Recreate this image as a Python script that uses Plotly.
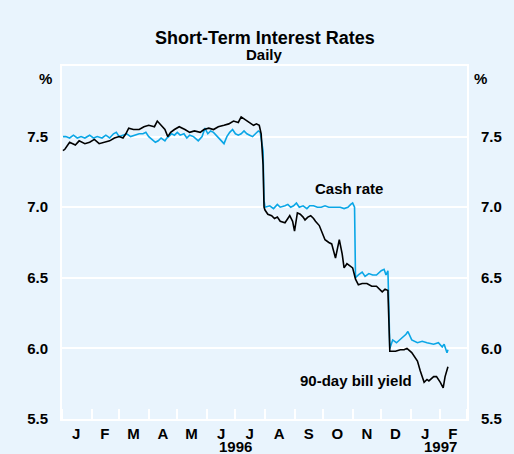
import plotly.graph_objects as go

# ---- data ----
bill_dates = [
    "1996-01-02", "1996-01-04", "1996-01-09", "1996-01-15", "1996-01-19", "1996-01-25", "1996-01-30",
    "1996-02-04", "1996-02-09", "1996-02-15", "1996-02-20", "1996-02-25", "1996-03-01", "1996-03-05",
    "1996-03-08", "1996-03-11", "1996-03-16", "1996-03-22", "1996-03-27", "1996-04-01", "1996-04-07",
    "1996-04-10", "1996-04-14", "1996-04-18", "1996-04-21", "1996-04-24", "1996-04-28", "1996-05-03",
    "1996-05-09", "1996-05-14", "1996-05-19", "1996-05-25", "1996-05-29", "1996-06-03", "1996-06-08",
    "1996-06-13", "1996-06-19", "1996-06-24", "1996-06-29", "1996-07-04", "1996-07-07", "1996-07-11",
    "1996-07-16", "1996-07-20", "1996-07-23", "1996-07-26", "1996-07-28", "1996-07-30", "1996-07-31",
    "1996-08-01", "1996-08-04", "1996-08-08", "1996-08-11", "1996-08-14", "1996-08-17", "1996-08-22",
    "1996-08-25", "1996-08-27", "1996-08-30", "1996-09-01", "1996-09-04", "1996-09-07", "1996-09-10",
    "1996-09-12", "1996-09-15", "1996-09-18", "1996-09-21", "1996-09-23", "1996-09-27", "1996-10-01",
    "1996-10-03", "1996-10-07", "1996-10-10", "1996-10-14", "1996-10-18", "1996-10-21", "1996-10-23",
    "1996-10-26", "1996-10-28", "1996-11-01", "1996-11-04", "1996-11-07", "1996-11-11", "1996-11-16",
    "1996-11-21", "1996-11-26", "1996-12-02", "1996-12-05", "1996-12-08", "1996-12-09", "1996-12-10",
    "1996-12-16", "1996-12-21", "1996-12-25", "1996-12-28", "1997-01-02", "1997-01-08", "1997-01-11",
    "1997-01-15", "1997-01-18", "1997-01-20", "1997-01-25", "1997-01-28", "1997-02-01", "1997-02-04",
    "1997-02-06", "1997-02-08", "1997-02-09",
]
bill_yield = [
    7.40, 7.41, 7.46, 7.44, 7.47, 7.45, 7.46,
    7.48, 7.45, 7.46, 7.47, 7.49, 7.50, 7.49,
    7.52, 7.56, 7.55, 7.55, 7.57, 7.58, 7.57,
    7.61, 7.58, 7.55, 7.50, 7.53, 7.55, 7.57,
    7.55, 7.53, 7.54, 7.53, 7.55, 7.56, 7.55,
    7.57, 7.58, 7.59, 7.61, 7.60, 7.64, 7.62,
    7.60, 7.58, 7.59, 7.58, 7.52, 7.30, 7.00,
    6.98, 6.95, 6.94, 6.92, 6.93, 6.90, 6.89,
    6.92, 6.94, 6.90, 6.83, 6.96, 6.95, 6.93,
    6.91, 6.93, 6.94, 6.92, 6.90, 6.87, 6.80,
    6.77, 6.75, 6.74, 6.64, 6.77, 6.67, 6.57,
    6.60, 6.59, 6.57, 6.49, 6.45, 6.46, 6.46,
    6.44, 6.44, 6.40, 6.42, 6.41, 6.20, 5.98,
    5.98, 5.99, 5.99, 6.00, 5.97, 5.91, 5.84,
    5.76, 5.78, 5.77, 5.80, 5.80, 5.76, 5.72,
    5.80, 5.84, 5.87,
]

cash_dates = [
    "1996-01-02", "1996-01-05", "1996-01-09", "1996-01-13", "1996-01-17", "1996-01-21", "1996-01-25",
    "1996-01-30", "1996-02-03", "1996-02-07", "1996-02-12", "1996-02-16", "1996-02-20", "1996-02-24",
    "1996-02-27", "1996-03-01", "1996-03-05", "1996-03-09", "1996-03-13", "1996-03-17", "1996-03-22",
    "1996-03-26", "1996-03-29", "1996-04-01", "1996-04-05", "1996-04-08", "1996-04-11", "1996-04-14",
    "1996-04-18", "1996-04-20", "1996-04-22", "1996-04-25", "1996-04-28", "1996-05-01", "1996-05-04",
    "1996-05-08", "1996-05-11", "1996-05-14", "1996-05-18", "1996-05-23", "1996-05-27", "1996-05-30",
    "1996-06-02", "1996-06-05", "1996-06-08", "1996-06-11", "1996-06-14", "1996-06-16", "1996-06-19",
    "1996-06-22", "1996-06-25", "1996-06-28", "1996-07-01", "1996-07-04", "1996-07-07", "1996-07-10",
    "1996-07-13", "1996-07-16", "1996-07-19", "1996-07-22", "1996-07-25", "1996-07-27", "1996-07-30",
    "1996-07-31", "1996-08-01", "1996-08-06", "1996-08-10", "1996-08-14", "1996-08-17", "1996-08-22",
    "1996-08-25", "1996-08-28", "1996-08-31", "1996-09-03", "1996-09-06", "1996-09-10", "1996-09-14",
    "1996-09-17", "1996-09-21", "1996-09-25", "1996-09-29", "1996-10-03", "1996-10-07", "1996-10-11",
    "1996-10-15", "1996-10-19", "1996-10-23", "1996-10-27", "1996-10-30", "1996-11-01", "1996-11-03",
    "1996-11-04", "1996-11-07", "1996-11-11", "1996-11-14", "1996-11-18", "1996-11-22", "1996-11-26",
    "1996-12-01", "1996-12-04", "1996-12-06", "1996-12-08", "1996-12-09", "1996-12-10", "1996-12-13",
    "1996-12-17", "1996-12-22", "1996-12-27", "1996-12-29", "1997-01-02", "1997-01-08", "1997-01-13",
    "1997-01-18", "1997-01-25", "1997-01-30", "1997-02-03", "1997-02-05", "1997-02-08", "1997-02-09",
]
cash_rate = [
    7.50, 7.50, 7.49, 7.51, 7.49, 7.50, 7.49,
    7.51, 7.49, 7.50, 7.49, 7.51, 7.49, 7.52,
    7.53, 7.50, 7.51, 7.52, 7.50, 7.51, 7.52,
    7.52, 7.53, 7.50, 7.48, 7.46, 7.47, 7.49,
    7.47, 7.49, 7.50, 7.52, 7.51, 7.53, 7.51,
    7.52, 7.49, 7.51, 7.50, 7.47, 7.50, 7.56,
    7.52, 7.54, 7.53, 7.51, 7.49, 7.47, 7.45,
    7.50, 7.53, 7.55, 7.52, 7.51, 7.52, 7.54,
    7.52, 7.51, 7.50, 7.52, 7.54, 7.53, 7.40,
    7.05, 7.00, 7.01, 6.99, 7.02, 7.00, 7.01,
    7.02, 7.00, 7.01, 7.03, 7.00, 7.01, 6.99,
    7.01, 7.01, 7.00, 7.00, 7.01, 7.00, 7.00,
    7.00, 7.00, 6.99, 7.00, 7.02, 7.03, 7.00,
    6.50, 6.52, 6.54, 6.51, 6.53, 6.52, 6.52,
    6.55, 6.56, 6.52, 6.55, 6.30, 6.00, 6.06,
    6.04, 6.07, 6.10, 6.12, 6.06, 6.04, 6.05,
    6.04, 6.03, 6.04, 6.01, 6.03, 5.97, 5.99,
]

month_starts = [
    "1996-01-01", "1996-02-01", "1996-03-01", "1996-04-01", "1996-05-01", "1996-06-01", "1996-07-01",
    "1996-08-01", "1996-09-01", "1996-10-01", "1996-11-01", "1996-12-01", "1997-01-01", "1997-02-01",
    "1997-03-01",
]
month_mids = [
    "1996-01-16", "1996-02-15", "1996-03-16", "1996-04-16", "1996-05-16", "1996-06-16", "1996-07-16",
    "1996-08-16", "1996-09-16", "1996-10-16", "1996-11-16", "1996-12-16", "1997-01-16", "1997-02-14",
]
month_labels = ["J", "F", "M", "A", "M", "J", "J", "A", "S", "O", "N", "D", "J", "F"]
year_labels = ["1996", "1997"]
year_positions = ["1996-07-01", "1997-02-01"]
y_ticks = [5.5, 6.0, 6.5, 7.0, 7.5]
y_ticktext = ["5.5", "6.0", "6.5", "7.0", "7.5"]

BG = "#E9F4FD"
BLUE = "#0AA6E6"
FONT = "Liberation Sans, Arial, Helvetica, sans-serif"

fig = go.Figure()
fig.add_trace(go.Scatter(x=cash_dates, y=cash_rate, mode="lines",
                         line=dict(color=BLUE, width=1.6), name="Cash rate",
                         showlegend=False))
fig.add_trace(go.Scatter(x=bill_dates, y=bill_yield, mode="lines",
                         line=dict(color="black", width=1.6), name="90-day bill yield",
                         showlegend=False))
fig.add_trace(go.Scatter(x=[bill_dates[0]], y=[bill_yield[0]], yaxis="y2",
                         mode="markers", marker=dict(opacity=0), showlegend=False,
                         hoverinfo="skip"))

tick_font = dict(family=FONT, size=15, color="black", weight="bold")

fig.update_layout(
    width=514, height=454,
    margin=dict(l=62, r=43, t=66, b=32),
    paper_bgcolor=BG, plot_bgcolor=BG,
    showlegend=False,
    xaxis=dict(
        type="date", range=["1996-01-01", "1997-03-01"],
        tickmode="array", tickvals=month_mids, ticktext=month_labels,
        ticks="", showgrid=False, zeroline=False,
        showline=True, linecolor="white", linewidth=2, mirror=True,
        tickfont=tick_font,
        minor=dict(tickmode="array", tickvals=month_starts, ticks="inside",
                   ticklen=10, tickcolor="white", tickwidth=2, showgrid=False),
    ),
    yaxis=dict(
        range=[5.5, 8.0], tickmode="array", tickvals=y_ticks, ticktext=y_ticktext,
        showgrid=True, gridcolor="white", gridwidth=2, zeroline=False,
        showline=True, linecolor="white", linewidth=2, ticks="",
        ticklabelstandoff=9, tickfont=tick_font,
    ),
    yaxis2=dict(
        range=[5.5, 8.0], tickmode="array", tickvals=y_ticks, ticktext=y_ticktext,
        overlaying="y", side="right", showgrid=False, zeroline=False,
        showline=True, linecolor="white", linewidth=2, ticks="",
        ticklabelstandoff=9, tickfont=tick_font,
    ),
)

txt = dict(family=FONT, size=15, color="black")
annotations = [
    dict(text="<b>Short-Term Interest Rates</b>", xref="paper", yref="paper", x=0.5, y=1.080,
         xanchor="center", yanchor="middle", showarrow=False,
         font=dict(family=FONT, size=18, color="black")),
    dict(text="<b>Daily</b>", xref="paper", yref="paper", x=0.5, y=1.033,
         xanchor="center", yanchor="middle", showarrow=False, font=txt),
    dict(text="<b>%</b>", xref="paper", yref="paper", x=-0.04, y=0.966,
         xanchor="center", yanchor="middle", showarrow=False, font=txt),
    dict(text="<b>%</b>", xref="paper", yref="paper", x=1.034, y=0.966,
         xanchor="center", yanchor="middle", showarrow=False, font=txt),
    dict(text="<b>Cash rate</b>", x="1996-10-28", y=7.135, xref="x", yref="y",
         xanchor="center", yanchor="middle", showarrow=False, font=txt),
    dict(text="<b>90-day bill yield</b>", x="1996-11-04", y=5.775, xref="x", yref="y",
         xanchor="center", yanchor="middle", showarrow=False, font=txt),
]
for lbl, pos in zip(year_labels, year_positions):
    annotations.append(dict(text=f"<b>{lbl}</b>", x=pos, y=-0.077, xref="x", yref="paper",
                            xanchor="center", yanchor="middle", showarrow=False, font=txt))
fig.update_layout(annotations=annotations)

fig.write_html(
    "out.html",
    config={"displayModeBar": False},
    post_script="document.body.style.margin='0';document.body.style.overflow='hidden';",
)
